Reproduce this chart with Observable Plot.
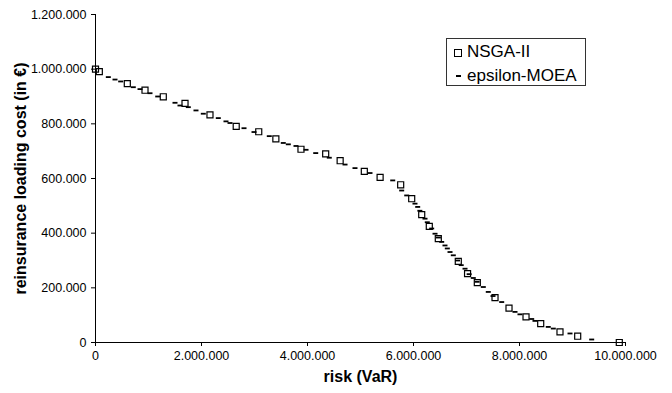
<!DOCTYPE html>
<html>
<head>
<meta charset="utf-8">
<script src="https://cdn.jsdelivr.net/npm/d3@7"></script>
<script src="https://cdn.jsdelivr.net/npm/@observablehq/plot@0.6"></script>
<style>
  body { margin: 0; background: #fff; }
  #wrap { position: relative; width: 672px; height: 393px; font-family: Arial, "Liberation Sans", sans-serif; }
  #legend { position: absolute; left: 446px; top: 38px; width: 140px; height: 48px; border: 1px solid #333; background: #fff; box-sizing: border-box; font-size: 17px; color: #000; }
  .lg-sq { position: absolute; left: 7px; top: 10px; width: 6px; height: 6px; border: 1px solid #000; }
  .lg-dash { position: absolute; left: 9px; top: 36px; width: 5px; height: 2px; background: #000; }
  .lg-t { position: absolute; left: 20px; line-height: 20px; white-space: nowrap; }
</style>
</head>
<body>
<div id="wrap">
  <div id="chart"></div>
  <div id="legend">
    <div class="lg-sq"></div><div class="lg-t" style="top:3px">NSGA-II</div>
    <div class="lg-dash"></div><div class="lg-t" style="top:27px">epsilon-MOEA</div>
  </div>
</div>
<script>
// NSGA-II solutions (risk VaR, reinsurance loading cost)
const nsgaRisk = [0, 72000, 600000, 934000, 1279000, 1689000, 2160000, 2655000, 3080000, 3403000, 3877000, 4343000, 4616000, 5072000, 5370000, 5758000, 5966000, 6155000, 6298000, 6468000, 6845000, 7020000, 7204000, 7538000, 7802000, 8123000, 8400000, 8764000, 9098000, 9883000];
const nsgaCost = [1000000, 991000, 947000, 923000, 899000, 875000, 833000, 791000, 771000, 745000, 707000, 690000, 665000, 626000, 604000, 577000, 526000, 468000, 425000, 380000, 297000, 252000, 219000, 164000, 126000, 94000, 69000, 39000, 23000, 0];

// epsilon-MOEA solutions
const epsRisk = [242000, 368000, 475000, 713000, 840000, 1028000, 1174000, 1500000, 1594000, 1751000, 1896000, 2034000, 2317000, 2462000, 2538000, 2802000, 2991000, 3279000, 3543000, 3638000, 3783000, 3972000, 4155000, 4411000, 4708000, 4896000, 5179000, 5608000, 5777000, 5872000, 6028000, 6079000, 6120000, 6217000, 6260000, 6343000, 6406000, 6470000, 6532000, 6594000, 6638000, 6689000, 6751000, 6830000, 6900000, 6972000, 7050000, 7128000, 7200000, 7317000, 7411000, 7500000, 7664000, 7915000, 8009000, 8230000, 8292000, 8543000, 8638000, 8953000, 9362000];
const epsCost = [971000, 962000, 955000, 934000, 927000, 912000, 900000, 877000, 867000, 861000, 849000, 837000, 821000, 809000, 803000, 784000, 770000, 755000, 730000, 725000, 719000, 705000, 693000, 676000, 651000, 638000, 620000, 593000, 556000, 538000, 508000, 496000, 482000, 453000, 440000, 417000, 398000, 384000, 368000, 355000, 344000, 331000, 319000, 300000, 283000, 270000, 250000, 236000, 222000, 203000, 185000, 170000, 148000, 112000, 103000, 86000, 79000, 57000, 51000, 33000, 11000];

const xTicks = [0, 2000000, 4000000, 6000000, 8000000, 10000000];
const yTicks = [0, 200000, 400000, 600000, 800000, 1000000, 1200000];
const xTitle = "risk (VaR)";
const yTitle = "reinsurance loading cost (in €)";

const nsga = nsgaRisk.map((r, i) => ({risk: r, cost: nsgaCost[i]}));
const eps = epsRisk.map((r, i) => ({risk: r, cost: epsCost[i]}));

const fmt = d3.formatLocale({decimal: ",", thousands: ".", grouping: [3], currency: ["", "€"]}).format(",d");

const dashSymbol = {
  draw(context, size) {
    context.moveTo(-2.5, 0);
    context.lineTo(2.5, 0);
  }
};

const chart = Plot.plot({
  width: 672,
  height: 393,
  marginLeft: 95,
  marginRight: 47,
  marginTop: 14,
  marginBottom: 51,
  style: {fontFamily: "Arial, 'Liberation Sans', sans-serif", fontSize: "12px", color: "#000", background: "#fff", overflow: "visible"},
  x: {domain: [0, 10000000]},
  y: {domain: [0, 1200000]},
  marks: [
    Plot.axisX({ticks: xTicks, tickSize: 4, tickPadding: 5, tickFormat: fmt, label: null, fontSize: 12.5}),
    Plot.axisY({ticks: yTicks, tickSize: 4, tickPadding: 5, tickFormat: fmt, label: null, fontSize: 12.5}),
    Plot.ruleY([0], {stroke: "#000"}),
    Plot.ruleX([0], {stroke: "#000"}),
    Plot.dot(eps, {x: "risk", y: "cost", symbol: dashSymbol, r: 2, stroke: "#000", fill: "none", strokeWidth: 1.8}),
    Plot.dot(nsga, {x: "risk", y: "cost", symbol: "square", r: 3.4, stroke: "#000", fill: "none", strokeWidth: 1.2}),
    Plot.text([xTitle], {text: d => d, frameAnchor: "bottom", dy: 39, fontWeight: "bold", fontSize: 16, textAnchor: "middle"}),
    Plot.text([yTitle], {text: d => d, frameAnchor: "left", rotate: -90, dx: -75, fontWeight: "bold", fontSize: 16, textAnchor: "middle"})
  ]
});
document.getElementById("chart").appendChild(chart);
</script>
</body>
</html>
